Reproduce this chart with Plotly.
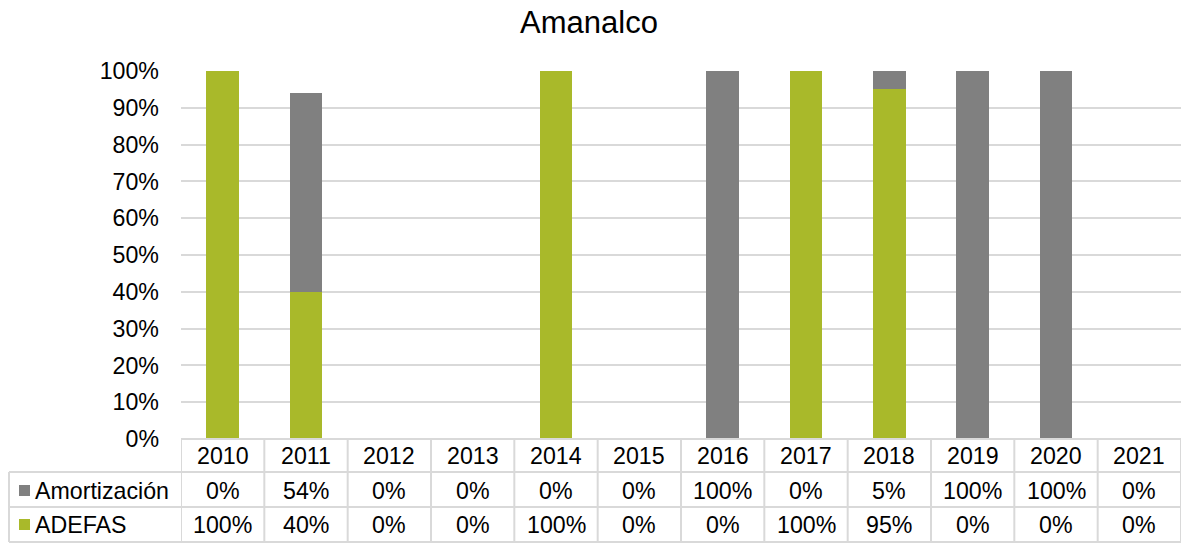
import plotly.graph_objects as go

years = ["2010", "2011", "2012", "2013", "2014", "2015", "2016", "2017", "2018", "2019", "2020", "2021"]
adefas = [100, 40, 0, 0, 100, 0, 0, 100, 95, 0, 0, 0]
amortizacion = [0, 54, 0, 0, 0, 0, 100, 0, 5, 100, 100, 0]
series_names = ["Amortización", "ADEFAS"]
title_text = "Amanalco"

GREEN = "#A9B92A"
GREY = "#808080"
LINE = "#D9D9D9"
FONT = "Liberation Sans, Arial, sans-serif"
FS = 23.2

# the page's body margin is removed by a post script, so figure == page
OX, OY = 0, 0
PAGE_W, PAGE_H = 1182, 544
W, H = PAGE_W - OX, PAGE_H - OY
PL, PR, PT, PB = 181, 1181, 71, 439   # plot area in page pixels
L, R, T, B = PL - OX, PAGE_W - PR, PT - OY, PAGE_H - PB
PH = PB - PT
PW = PR - PL


def py(p):
    return (PB - p) / PH


def px(p):
    return (p - PL) / PW


fig = go.Figure()
fig.add_trace(go.Bar(x=years, y=[v / 100 for v in adefas], name="ADEFAS",
                     marker=dict(color=GREEN, line=dict(width=0))))
fig.add_trace(go.Bar(x=years, y=[v / 100 for v in amortizacion], name="Amortización",
                     marker=dict(color=GREY, line=dict(width=0))))

shapes = []
annotations = []
n = len(years)
y_top, y_r1, y_r2, y_bot = 439, 472, 507, 542

# vertical lines of table
for i in range(n + 1):
    shapes.append(dict(type="line", xref="x", yref="paper", x0=i - 0.5, x1=i - 0.5,
                       y0=py(y_top), y1=py(y_bot), line=dict(color=LINE, width=2)))
# left column vertical line
shapes.append(dict(type="line", xref="paper", yref="paper", x0=px(9), x1=px(9),
                   y0=py(y_r1), y1=py(y_bot), line=dict(color=LINE, width=2)))
# horizontal lines
shapes.append(dict(type="line", xref="x", yref="paper", x0=-0.5, x1=n - 0.5,
                   y0=py(y_top), y1=py(y_top), line=dict(color=LINE, width=2)))
for yy in (y_r1, y_r2, y_bot):
    shapes.append(dict(type="line", xref="paper", yref="paper", x0=px(9), x1=1,
                       y0=py(yy), y1=py(yy), line=dict(color=LINE, width=2)))

# legend keys
shapes.append(dict(type="rect", xref="paper", yref="paper", x0=px(19), x1=px(30),
                   y0=py(496), y1=py(485), fillcolor=GREY, line=dict(width=0)))
shapes.append(dict(type="rect", xref="paper", yref="paper", x0=px(19), x1=px(30),
                   y0=py(530), y1=py(519), fillcolor=GREEN, line=dict(width=0)))

annotations.append(dict(xref="paper", yref="paper", x=px(33), y=py(491), text=series_names[0],
                        showarrow=False, xanchor="left", yanchor="middle",
                        font=dict(family=FONT, size=FS, color="#000")))
annotations.append(dict(xref="paper", yref="paper", x=px(33), y=py(525), text=series_names[1],
                        showarrow=False, xanchor="left", yanchor="middle",
                        font=dict(family=FONT, size=FS, color="#000")))

for i, yr in enumerate(years):
    annotations.append(dict(xref="x", yref="paper", x=i, y=py(456), text=yr, showarrow=False,
                            xanchor="center", yanchor="middle",
                            font=dict(family=FONT, size=FS, color="#000")))
    annotations.append(dict(xref="x", yref="paper", x=i, y=py(491), text=f"{amortizacion[i]}%",
                            showarrow=False, xanchor="center", yanchor="middle",
                            font=dict(family=FONT, size=FS, color="#000")))
    annotations.append(dict(xref="x", yref="paper", x=i, y=py(525), text=f"{adefas[i]}%",
                            showarrow=False, xanchor="center", yanchor="middle",
                            font=dict(family=FONT, size=FS, color="#000")))

fig.update_layout(
    width=W, height=H,
    margin=dict(l=L, r=R, t=T, b=B, autoexpand=False),
    barmode="stack", bargap=0.61,
    plot_bgcolor="white", paper_bgcolor="white",
    showlegend=False,
    title=dict(text=title_text, x=(589 - OX) / W, xref="container", xanchor="center",
               y=1 - (33 - OY) / H, yref="container", yanchor="bottom",
               font=dict(family=FONT, size=31, color="#000")),
    font=dict(family=FONT, size=FS, color="#000"),
    shapes=shapes, annotations=annotations,
)
fig.update_xaxes(type="category", showticklabels=False, showgrid=False, showline=False,
                 zeroline=False, range=[-0.5, n - 0.5], automargin=False)
fig.update_yaxes(range=[0, 1], dtick=0.1, tickformat=".0%", showgrid=True, gridcolor=LINE,
                 gridwidth=1.5, zeroline=False, showline=False, ticks="",
                 ticklabelstandoff=21, automargin=False,
                 tickfont=dict(family=FONT, size=FS, color="#000"))

fig.write_html("out.html", config={"displayModeBar": False},
               post_script="document.body.style.margin='0';document.body.style.overflow='hidden';")
